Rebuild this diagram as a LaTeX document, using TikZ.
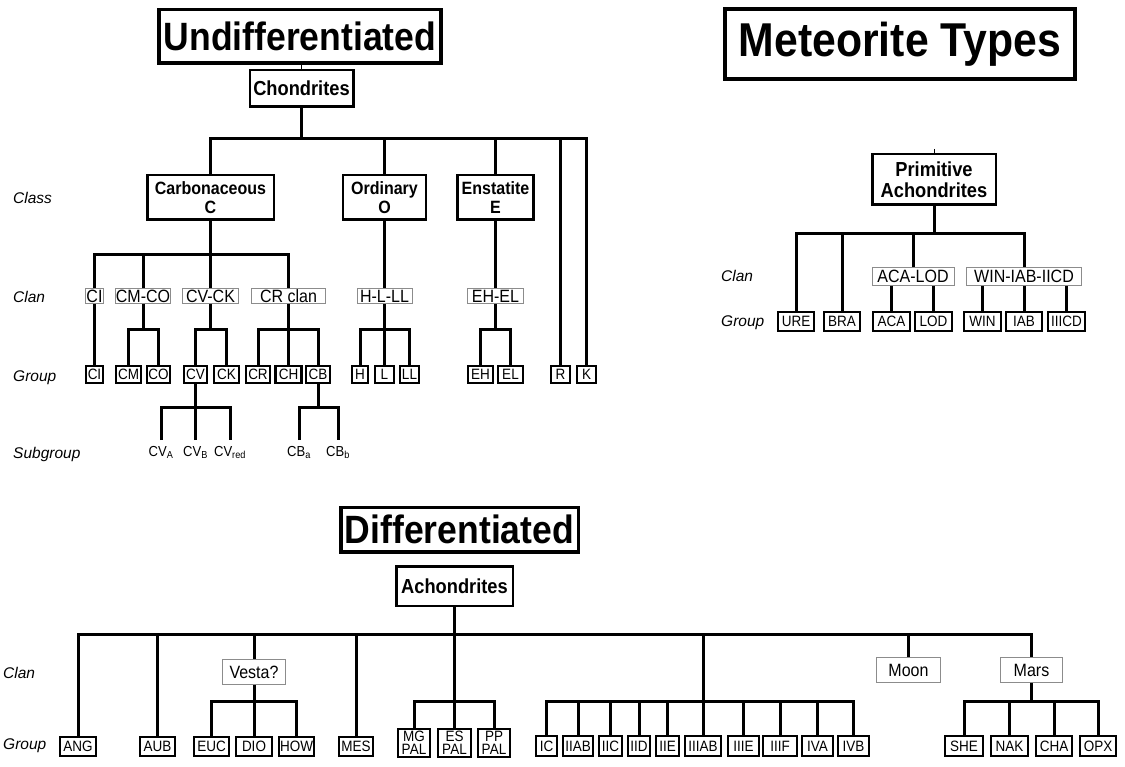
\documentclass[tikz,border=0pt]{standalone}
\usepackage{fontspec}
\setmainfont{Liberation Sans}[FakeStretch=0.9]
\newfontfamily\labfont{Liberation Sans}
\definecolor{clangray}{gray}{0.55}
\begin{document}
\begin{tikzpicture}[x=1pt,y=-1pt,
  conn/.style={line width=3pt},
  stub/.style={line width=1pt},
  title/.style={draw, line width=3.5pt, inner sep=0, fill=white, font=\fontsize{39.5}{42}\selectfont\bfseries},
  cls/.style={draw, line width=2.5pt, inner sep=0, fill=white, align=center, font=\fontsize{17.8}{19}\selectfont\bfseries},
  clsbig/.style={cls, font=\fontsize{20.3}{21}\selectfont\bfseries},
  clan/.style={draw=clangray, line width=0.9pt, inner sep=0, fill=white, font=\fontsize{17.8}{18}\selectfont},
  grp/.style={draw, line width=2.3pt, inner sep=0, fill=white, align=center, font=\fontsize{15}{13.5}\selectfont},
  subg/.style={inner sep=0, anchor=north, font=\fontsize{14.5}{15}\selectfont},
  lab/.style={anchor=base west, inner sep=0, font=\labfont\fontsize{15.5}{18}\selectfont\itshape}
]
\useasboundingbox (0,0) rectangle (1125,767);
\fill[white] (0,0) rectangle (1125,767);

% ---------------- Undifferentiated ----------------
\node[title, minimum width=282, minimum height=53.5] (undiff) at (300,36.5) {Undifferentiated};
\node[clsbig, minimum width=103.5, minimum height=36.5] (chon) at (301.5,88.5) {Chondrites};
\node[cls, minimum width=126.5, minimum height=44.5] (carb) at (210.5,197.5) {Carbonaceous\\C};
\node[cls, minimum width=83, minimum height=44.5] (ord) at (384.5,197.5) {Ordinary\\O};
\node[cls, minimum width=76, minimum height=44.5] (enst) at (495.5,197.5) {Enstatite\\E};

\node[clan, minimum width=18, minimum height=15] (cCI) at (94.5,296) {CI};
\node[clan, minimum width=55, minimum height=15] (cCMCO) at (143,296) {CM-CO};
\node[clan, minimum width=56, minimum height=15] (cCVCK) at (210.5,296) {CV-CK};
\node[clan, minimum width=74, minimum height=15] (cCR) at (288.5,296) {CR clan};
\node[clan, minimum width=55, minimum height=15] (cHLL) at (384.5,296) {H-L-LL};
\node[clan, minimum width=56, minimum height=15] (cEHEL) at (495.5,296) {EH-EL};

\foreach \n/\x/\w in {CI/94.5/17, CM/128.5/25, CO/158.5/23, CV/195.5/23, CK/226.5/25,
  CR/258/24, CH/288.5/26, CB/318/24, H/360/16, L/384.5/19, LL/409.5/19,
  EH/480.5/25, EL/510.5/25, R/560.5/19, K/586.5/19}
  \node[grp, minimum width=\w, minimum height=16.5] (g\n) at (\x,374.5) {\n};

\node[subg] (sA) at (161,446) {CV\textsubscript{A}};
\node[subg] (sB) at (195.5,446) {CV\textsubscript{B}};
\node[subg] (sR) at (230,446) {CV\textsubscript{red}};
\node[subg] (sCa) at (299,446) {CB\textsubscript{a}};
\node[subg] (sCb) at (338,446) {CB\textsubscript{b}};

\node[lab] (lClass) at (13,203.5) {Class};
\node[lab] (lClan) at (13,302.5) {Clan};
\node[lab] (lGroup) at (13,381.5) {Group};
\node[lab] (lSub) at (13,458.5) {Subgroup};

\coordinate (yb1) at (0,139);
\coordinate (yb2) at (0,255);
\coordinate (yb3) at (0,330);
\coordinate (yb4) at (0,407);

\draw[stub] (undiff.south -| chon.north) -- (chon.north);
\draw[conn] (chon.south) -- (chon.south |- yb1);
\draw[conn] (carb.north) -- (carb.north |- yb1) -- (gK.north |- yb1) -- (gK.north);
\draw[conn] (ord.north) -- (ord.north |- yb1);
\draw[conn] (enst.north) -- (enst.north |- yb1);
\draw[conn] (gR.north) -- (gR.north |- yb1);

\draw[conn] (carb.south) -- (carb.south |- yb2);
\draw[conn] (cCI.north) -- (cCI.north |- yb2) -- (cCR.north |- yb2) -- (cCR.north);
\draw[conn] (cCMCO.north) -- (cCMCO.north |- yb2);
\draw[conn] (cCVCK.north) -- (cCVCK.north |- yb2);
\draw[conn] (ord.south) -- (cHLL.north);
\draw[conn] (enst.south) -- (cEHEL.north);

\draw[conn] (cCI.south) -- (gCI.north);
\draw[conn] (cCMCO.south) -- (cCMCO.south |- yb3);
\draw[conn] (gCM.north) -- (gCM.north |- yb3) -- (gCO.north |- yb3) -- (gCO.north);
\draw[conn] (cCVCK.south) -- (cCVCK.south |- yb3);
\draw[conn] (gCV.north) -- (gCV.north |- yb3) -- (gCK.north |- yb3) -- (gCK.north);
\draw[conn] (cCR.south) -- (gCH.north);
\draw[conn] (gCR.north) -- (gCR.north |- yb3) -- (gCB.north |- yb3) -- (gCB.north);
\draw[conn] (cHLL.south) -- (gL.north);
\draw[conn] (gH.north) -- (gH.north |- yb3) -- (gLL.north |- yb3) -- (gLL.north);
\draw[conn] (cEHEL.south) -- (cEHEL.south |- yb3);
\draw[conn] (gEH.north) -- (gEH.north |- yb3) -- (gEL.north |- yb3) -- (gEL.north);

\draw[conn] (gCV.south) -- (gCV.south |- yb4);
\draw[conn] ([yshift=6pt]sA.north) -- (sA.north |- yb4) -- (sR.north |- yb4) -- ([yshift=6pt]sR.north);
\draw[conn] ([yshift=6pt]sB.north) -- (sB.north |- yb4);
\draw[conn] (gCB.south) -- (gCB.south |- yb4);
\draw[conn] ([yshift=6pt]sCa.north) -- (sCa.north |- yb4) -- (sCb.north |- yb4) -- ([yshift=6pt]sCb.north);

% ---------------- Meteorite Types / Primitive Achondrites ----------------
\node[title, line width=4pt, font=\fontsize{47.5}{50}\selectfont\bfseries, minimum width=350, minimum height=70] (meteor) at (900,44) {Meteorite Types};
\node[clsbig, minimum width=123.5, minimum height=50.5] (prim) at (934,179.5) {Primitive\\Achondrites};
\coordinate (ptop) at (934,149);
\draw[stub] (ptop) -- (prim.north);

\node[clan, minimum width=82, minimum height=18] (cACA) at (913,276.5) {ACA-LOD};
\node[clan, minimum width=115, minimum height=18] (cWIN) at (1024,276.5) {WIN-IAB-IICD};

\foreach \n/\x/\w in {URE/796/36, BRA/842/36, ACA/891.5/37, LOD/933.5/37, WIN/982.5/37, IAB/1024/36, IIICD/1066.5/37}
  \node[grp, minimum width=\w, minimum height=18.7] (g\n) at (\x,321.5) {\n};

\node[lab] (rClan) at (721,281.5) {Clan};
\node[lab] (rGroup) at (721,326.5) {Group};

\coordinate (yc1) at (0,234);
\draw[conn] (prim.south) -- (prim.south |- yc1);
\draw[conn] (gURE.north) -- (gURE.north |- yc1) -- (cWIN.north |- yc1) -- (cWIN.north);
\draw[conn] (gBRA.north) -- (gBRA.north |- yc1);
\draw[conn] (cACA.north) -- (cACA.north |- yc1);
\draw[conn] (cACA.south -| gACA.north) -- (gACA.north);
\draw[conn] (cACA.south -| gLOD.north) -- (gLOD.north);
\draw[conn] (cWIN.south -| gWIN.north) -- (gWIN.north);
\draw[conn] (cWIN.south -| gIAB.north) -- (gIAB.north);
\draw[conn] (cWIN.south -| gIIICD.north) -- (gIIICD.north);

% ---------------- Differentiated ----------------
\node[title, minimum width=237.5, minimum height=44.5] (diff) at (459.5,529.5) {Differentiated};
\node[clsbig, minimum width=116.5, minimum height=39.5] (ach) at (454.5,586) {Achondrites};

\node[clan, minimum width=63, minimum height=25] (cVesta) at (254,672) {Vesta?};
\node[clan, minimum width=64, minimum height=25] (cMoon) at (908.5,670) {Moon};
\node[clan, minimum width=62, minimum height=25] (cMars) at (1031.5,670) {Mars};

\foreach \n/\x/\w in {ANG/78/36, AUB/157.5/35, EUC/211.5/35, DIO/254/36, HOW/296.5/35, MES/356/34}
  \node[grp, minimum width=\w, minimum height=19] (g\n) at (\x,746.5) {\n};
\node[grp, minimum width=32, minimum height=28] (gMG) at (414,743) {MG\\PAL};
\node[grp, minimum width=33, minimum height=28] (gES) at (454.5,743) {ES\\PAL};
\node[grp, minimum width=32, minimum height=28] (gPP) at (494,743) {PP\\PAL};
\foreach \n/\x/\w in {IC/546.5/21, IIAB/578/30, IIC/610.5/23, IID/639/22, IIE/667.5/23, IIIAB/703/36,
  IIIE/743.5/31, IIIF/780/34, IVA/817.5/31, IVB/853.5/31}
  \node[grp, minimum width=\w, minimum height=20] (g\n) at (\x,746) {\n};
\foreach \n/\x/\w in {SHE/964/38, NAK/1009.5/37, CHA/1054/36, OPX/1098/36}
  \node[grp, minimum width=\w, minimum height=20] (g\n) at (\x,746) {\n};

\node[lab] (bClan) at (3,678.5) {Clan};
\node[lab] (bGroup) at (3,749.5) {Group};

\coordinate (yd1) at (0,634);
\coordinate (yd2) at (0,701);
\draw[conn] (ach.south) -- (ach.south |- yd2);
\draw[conn] (gANG.north) -- (gANG.north |- yd1) -- (cMars.north |- yd1) -- (cMars.north);
\draw[conn] (gAUB.north) -- (gAUB.north |- yd1);
\draw[conn] (cVesta.north) -- (cVesta.north |- yd1);
\draw[conn] (gMES.north) -- (gMES.north |- yd1);
\draw[conn] (gIIIAB.north) -- (gIIIAB.north |- yd1);
\draw[conn] (cMoon.north) -- (cMoon.north |- yd1);

\draw[conn] (cVesta.south) -- (gDIO.north);
\draw[conn] (gEUC.north) -- (gEUC.north |- yd2) -- (gHOW.north |- yd2) -- (gHOW.north);

\draw[conn] (gMG.north) -- (gMG.north |- yd2) -- (gPP.north |- yd2) -- (gPP.north);
\draw[conn] (gES.north) -- (gES.north |- yd2);

\draw[conn] (gIC.north) -- (gIC.north |- yd2) -- (gIVB.north |- yd2) -- (gIVB.north);
\foreach \n in {IIAB, IIC, IID, IIE, IIIAB, IIIE, IIIF, IVA}
  \draw[conn] (g\n.north) -- (g\n.north |- yd2);

\draw[conn] (cMars.south) -- (cMars.south |- yd2);
\draw[conn] (gSHE.north) -- (gSHE.north |- yd2) -- (gOPX.north |- yd2) -- (gOPX.north);
\draw[conn] (gNAK.north) -- (gNAK.north |- yd2);
\draw[conn] (gCHA.north) -- (gCHA.north |- yd2);
\end{tikzpicture}
\end{document}
